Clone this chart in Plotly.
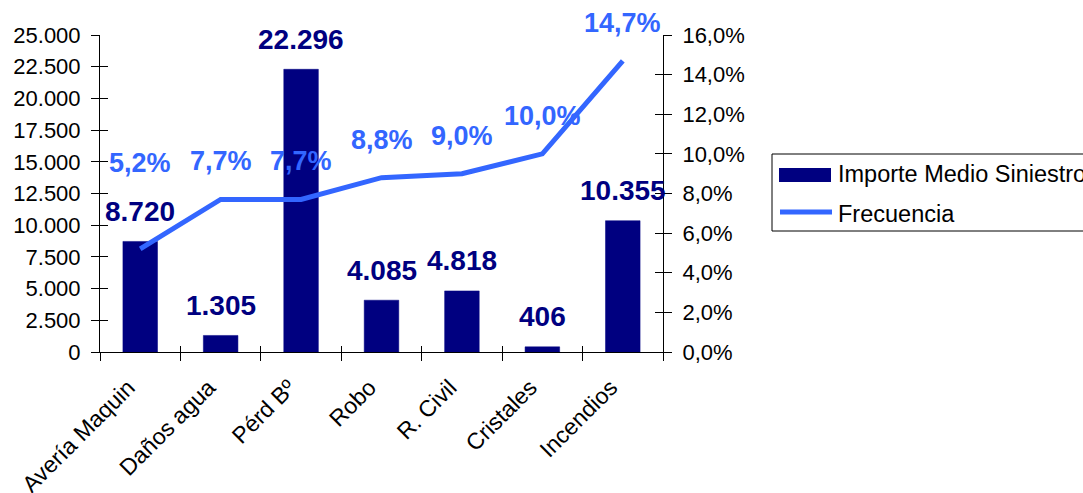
import numpy as np
import plotly.graph_objects as go

# Claims by line of business: average claim amount (EUR) and claim frequency (%)
categorias = ["Avería Maquin", "Daños agua", "Pérd Bº", "Robo", "R. Civil", "Cristales", "Incendios"]
importe_medio = [8720, 1305, 22296, 4085, 4818, 406, 10355]
frecuencia = [5.2, 7.7, 7.7, 8.8, 9.0, 10.0, 14.7]

y_ticks_importe = list(range(0, 25001, 2500))
y_ticks_frec = list(range(0, 17, 2))

W, H = 1083, 493
M = dict(l=100, r=420, t=35, b=141)
PW = W - M["l"] - M["r"]
PH = H - M["t"] - M["b"]

NAVY = "#000080"
BLUE = "#3366FF"
FONT = "Liberation Sans, Arial, sans-serif"


def paper_x(px):
    return (px - M["l"]) / PW


def paper_y(py):
    return (H - M["b"] - py) / PH


def pct(v):
    return f"{v:.1f}%".replace(".", ",")


fig = go.Figure()

fig.add_trace(go.Bar(
    x=categorias, y=importe_medio, name="Importe Medio Siniestro",
    marker=dict(color=NAVY, line=dict(color=NAVY, width=0.5)),
    showlegend=False,
))
fig.add_trace(go.Scatter(
    x=categorias, y=frecuencia, name="Frecuencia", yaxis="y2",
    mode="lines", line=dict(color=BLUE, width=5),
    showlegend=False,
))

# empty traces that carry the inward half of the crossing tick marks
fig.add_trace(go.Scatter(x=[None], y=[None], xaxis="x2", yaxis="y3",
                         showlegend=False, hoverinfo="skip"))
fig.add_trace(go.Scatter(x=[None], y=[None], xaxis="x", yaxis="y4",
                         showlegend=False, hoverinfo="skip"))

annotations = []

# value labels above the bars
for cat, v in zip(categorias, importe_medio):
    annotations.append(dict(
        x=cat, y=v, xref="x", yref="y", text=f"{v:,}".replace(",", "."),
        showarrow=False, yanchor="middle", yshift=30,
        font=dict(family=FONT, size=28, color=NAVY, weight="bold"),
    ))

# frequency labels above the line points (first one lifted clear of the bar label)
lift = {0: 86}
for i, (cat, v) in enumerate(zip(categorias, frecuencia)):
    annotations.append(dict(
        x=cat, y=v, xref="x", yref="y2", text=pct(v),
        showarrow=False, yanchor="middle", yshift=lift.get(i, 38),
        font=dict(family=FONT, size=27, color=BLUE, weight="bold"),
    ))

# legend entries
legend_font = dict(family=FONT, size=23.5, color="black")
annotations.append(dict(x=paper_x(836), y=paper_y(174), xref="paper", yref="paper",
                        text="Importe Medio Siniestro", showarrow=False,
                        xanchor="left", yanchor="middle", font=legend_font))
annotations.append(dict(x=paper_x(836), y=paper_y(214), xref="paper", yref="paper",
                        text="Frecuencia", showarrow=False,
                        xanchor="left", yanchor="middle", font=legend_font))

shapes = [
    dict(type="rect", xref="paper", yref="paper",
         x0=paper_x(772), x1=paper_x(1120), y0=paper_y(231), y1=paper_y(154),
         line=dict(color="black", width=1), fillcolor="white", layer="below"),
    dict(type="rect", xref="paper", yref="paper",
         x0=paper_x(779), x1=paper_x(831), y0=paper_y(182), y1=paper_y(168),
         line=dict(color=NAVY, width=0), fillcolor=NAVY),
    dict(type="line", xref="paper", yref="paper",
         x0=paper_x(780), x1=paper_x(832), y0=paper_y(212), y1=paper_y(212),
         line=dict(color=BLUE, width=5)),
]

n = len(categorias)
bounds = np.arange(n + 1) - 0.5
tick_font = dict(family=FONT, size=22, color="black")

fig.update_layout(
    width=W, height=H, margin=M,
    paper_bgcolor="white", plot_bgcolor="white",
    separators=",.",
    bargap=0.57,
    font=dict(family=FONT, color="black"),
    xaxis=dict(
        type="category", categoryorder="array", categoryarray=categorias,
        range=[-0.5, n - 0.5], showline=True, linecolor="black", linewidth=1,
        ticks="outside", ticklen=8, tickcolor="black", tickson="boundaries",
        tickangle=-45, tickfont=dict(family=FONT, size=23, color="black"),
        ticklabelstandoff=12, ticklabelshift=-12,
        showgrid=False, zeroline=False, automargin=False,
    ),
    xaxis2=dict(
        overlaying="x", anchor="y", range=[-0.5, n - 0.5], tickvals=bounds,
        ticks="inside", ticklen=6, tickcolor="black", showticklabels=False,
        showline=False, showgrid=False, zeroline=False, automargin=False,
    ),
    yaxis=dict(
        range=[0, 25000], tickvals=y_ticks_importe, tickformat=",d",
        showline=True, linecolor="black", linewidth=1,
        ticks="outside", ticklen=8, tickcolor="black", tickfont=tick_font,
        showgrid=False, zeroline=False, ticklabelstandoff=6, automargin=False,
    ),
    yaxis2=dict(
        overlaying="y", side="right", anchor="x", range=[0, 16],
        tickvals=y_ticks_frec, ticktext=[pct(v) for v in y_ticks_frec],
        showline=True, linecolor="black", linewidth=1,
        ticks="outside", ticklen=8, tickcolor="black", tickfont=tick_font,
        showgrid=False, zeroline=False, ticklabelstandoff=6, automargin=False,
    ),
    yaxis3=dict(
        overlaying="y", anchor="x", range=[0, 25000], tickvals=y_ticks_importe,
        ticks="inside", ticklen=8, tickcolor="black", showticklabels=False,
        showline=False, showgrid=False, zeroline=False, automargin=False,
    ),
    yaxis4=dict(
        overlaying="y", side="right", anchor="x", range=[0, 16], tickvals=y_ticks_frec,
        ticks="inside", ticklen=8, tickcolor="black", showticklabels=False,
        showline=False, showgrid=False, zeroline=False, automargin=False,
    ),
    annotations=annotations,
    shapes=shapes,
    showlegend=False,
)

fig.write_html("out.html")
